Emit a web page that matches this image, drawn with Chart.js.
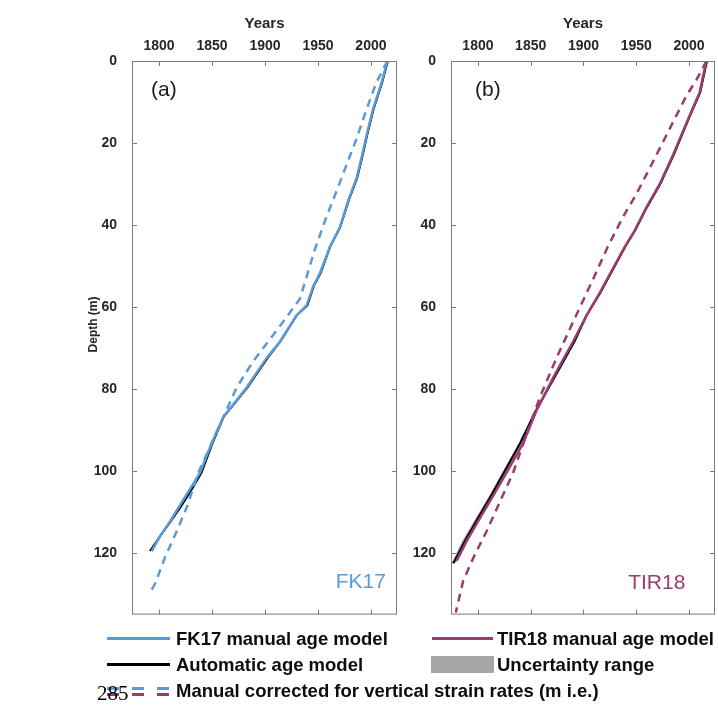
<!DOCTYPE html>
<html>
<head>
<meta charset="utf-8">
<script src="https://cdn.jsdelivr.net/npm/chart.js@4.4.1/dist/chart.umd.min.js"></script>
<style>
  body { margin:0; background:#fff; width:718px; height:705px; position:relative; overflow:hidden; font-family:"Liberation Sans", Arial, sans-serif; }
  canvas { position:absolute; top:0; }
  #chartA { left:80px; }
  #chartB { left:400px; }
  .leg { position:absolute; font-weight:bold; font-size:18.5px; color:#0d0d0d; line-height:1; white-space:nowrap; }
  .sw { position:absolute; }
  #page { position:absolute; left:97px; top:683px; font-family:"Liberation Serif", "Times New Roman", serif; font-size:21px; line-height:1; color:#000; }
</style>
</head>
<body>
<canvas id="chartA" width="320" height="630"></canvas>
<canvas id="chartB" width="318" height="630"></canvas>

<div class="sw" style="left:107px;top:637px;width:63px;height:3px;background:#5b9bd5"></div>
<div class="leg" style="left:176px;top:630px">FK17 manual age model</div>
<div class="sw" style="left:432px;top:637px;width:61px;height:3px;background:#993d70"></div>
<div class="leg" style="left:497px;top:630px">TIR18 manual age model</div>
<div class="sw" style="left:107px;top:663px;width:63px;height:3px;background:#000"></div>
<div class="leg" style="left:176px;top:656px">Automatic age model</div>
<div class="sw" style="left:431px;top:656px;width:63px;height:17px;background:#a6a6a6"></div>
<div class="leg" style="left:497px;top:656px">Uncertainty range</div>
<div class="sw" style="left:107px;top:687px;width:12px;height:3px;background:#5b9bd5"></div>
<div class="sw" style="left:132px;top:687px;width:12px;height:3px;background:#5b9bd5"></div>
<div class="sw" style="left:157px;top:687px;width:12px;height:3px;background:#5b9bd5"></div>
<div class="sw" style="left:107px;top:693px;width:12px;height:3px;background:#993d70"></div>
<div class="sw" style="left:132px;top:693px;width:12px;height:3px;background:#993d70"></div>
<div class="sw" style="left:157px;top:693px;width:12px;height:3px;background:#993d70"></div>
<div class="leg" style="left:176px;top:682px">Manual corrected for vertical strain rates (m i.e.)</div>
<div id="page">285</div>

<script>
// FK17 (panel a)
var fk17Year = [2015.5, 2010, 2002, 1996, 1991, 1986.5, 1978.6, 1970.8, 1961.3, 1951.9, 1945.6, 1939.3, 1929.9, 1914.2, 1901.6, 1882.7, 1860.7, 1849.7, 1838.7, 1829.2, 1819.8, 1810.4, 1800.9, 1793.1];
var fk17Depth = [0, 5.3, 11.7, 18, 23.7, 28.5, 34, 40.5, 45.3, 51.7, 54.9, 59.6, 62, 68.4, 72.4, 79.6, 86.8, 93.2, 100.4, 104.4, 108.3, 112.3, 115.9, 119.5];
var autoAYear = [2016, 2010.5, 2002.5, 1996.5, 1991.5, 1987, 1979, 1971, 1961.5, 1952.5, 1946, 1940, 1930, 1914.5, 1902.5, 1883.5, 1861, 1850.5, 1840, 1831, 1821.5, 1811, 1801, 1791.5];
var autoADepth = fk17Depth;
var uncALow = [2015.3, 2009.7, 2001.7, 1995.7, 1990.7, 1986.2, 1978.2, 1970.2, 1960.7, 1951.7, 1945.2, 1939.2, 1929.2, 1913.7, 1901.7, 1882.7, 1860.2, 1849.7, 1839.2, 1830.2, 1820.7, 1810.2, 1800.2, 1790.5];
var uncAHigh = [2016.8, 2011.3, 2003.3, 1997.3, 1992.3, 1987.8, 1979.8, 1971.8, 1962.3, 1953.3, 1946.8, 1940.8, 1930.8, 1915.3, 1903.3, 1884.3, 1861.8, 1851.3, 1840.8, 1831.8, 1822.3, 1811.8, 1801.8, 1792.5];
var fk17CorrYear = [2015.5, 2005, 1996, 1986.5, 1977, 1967.6, 1958, 1947, 1933, 1920.5, 1907.8, 1889, 1873.3, 1860.7, 1849, 1837, 1827, 1816.7, 1805.7, 1796.2, 1793];
var fk17CorrDepth = [0, 5.3, 11.7, 18.9, 25.3, 31.7, 38, 46, 58, 62.4, 66.8, 73.2, 79.6, 86.8, 93.6, 100.4, 108.3, 114.7, 121, 127.5, 129];

// TIR18 (panel b)
var tir18Year = [2016.4, 2010, 2000.6, 1994, 1984.8, 1972, 1959.6, 1948.6, 1939.1, 1915.5, 1902.9, 1890.2, 1871.3, 1855.6, 1842.9, 1827.1, 1814.5, 1801.9, 1789.3, 1779.8];
var tir18Depth = [0, 7.7, 13.3, 17.3, 22.9, 30.1, 35.7, 41.3, 45.3, 56.5, 62, 68.4, 77.2, 85.2, 93.2, 100.4, 106, 111.5, 117.1, 121.9];
var autoBYear = [2017, 2010.5, 2001, 1994.5, 1985.5, 1972.5, 1960, 1949, 1939.5, 1916, 1903, 1891.5, 1872.5, 1855, 1840, 1824.5, 1812.5, 1800, 1787.5, 1776.6];
var autoBDepth = [0, 7.7, 13.3, 17.3, 22.9, 30.1, 35.7, 41.3, 45.3, 56.5, 62, 68.4, 77.2, 85.2, 93.2, 100.4, 106, 111.5, 117.1, 122.5];
var uncBLow = [2016.2, 2009.6, 2000.1, 1993.6, 1984.6, 1971.6, 1959.1, 1948.1, 1938.6, 1915.1, 1902.1, 1890.6, 1871.5, 1853.8, 1838.6, 1822.9, 1810.6, 1797.8, 1785, 1775];
var uncBHigh = [2017.8, 2011.4, 2001.9, 1995.4, 1986.4, 1973.4, 1960.9, 1949.9, 1940.4, 1916.9, 1903.9, 1892.4, 1873.5, 1856.2, 1841.4, 1826.1, 1814.4, 1802.2, 1790, 1778.6];
var tir18CorrYear = [2016.5, 2007, 1997.5, 1988, 1978.6, 1962.8, 1950, 1937.5, 1923, 1909.1, 1890.2, 1874.5, 1858.7, 1846, 1833.4, 1820.8, 1808.2, 1797.2, 1786.1, 1779];
var tir18CorrDepth = [0, 4.6, 8.5, 13.3, 18.1, 26.1, 32.5, 38, 45.3, 53.2, 63.6, 72.4, 82, 91, 100.4, 107.5, 114.7, 120.3, 126.7, 134.5];

var yearTicks = [1800, 1850, 1900, 1950, 2000];
var depthTicks = [0, 20, 40, 60, 80, 100, 120];

var blue = '#5b9bd5';
var purple = '#993d70';

function pts(xs, ys) {
  return xs.map(function (v, i) { return { x: v, y: ys[i] }; });
}
function band(depths, low, high) {
  return pts(low, depths).concat(pts(high, depths).reverse());
}

// box round the plot with inward ticks on all four sides, plus the panel labels
var frameTicks = {
  id: 'frameTicks',
  afterDatasetsDraw: function (chart, args, opts) {
    var ctx = chart.ctx, a = chart.chartArea, x = chart.scales.x, y = chart.scales.y;
    ctx.save();
    ctx.strokeStyle = '#7a7a7a';
    ctx.lineWidth = 1;
    ctx.strokeRect(a.left + 0.5, a.top + 0.5, a.right - a.left - 1, a.bottom - a.top - 1);
    ctx.beginPath();
    x.ticks.forEach(function (t) {
      var px = Math.round(x.getPixelForValue(t.value)) + 0.5;
      ctx.moveTo(px, a.top); ctx.lineTo(px, a.top + 5);
      ctx.moveTo(px, a.bottom); ctx.lineTo(px, a.bottom - 5);
    });
    y.ticks.forEach(function (t) {
      var py = Math.round(y.getPixelForValue(t.value)) + 0.5;
      ctx.moveTo(a.left, py); ctx.lineTo(a.left + 5, py);
      ctx.moveTo(a.right, py); ctx.lineTo(a.right - 5, py);
    });
    ctx.stroke();
    ctx.font = '21px "Liberation Sans", Arial, sans-serif';
    ctx.textAlign = 'center';
    ctx.textBaseline = 'middle';
    ctx.fillStyle = '#1a1a1a';
    ctx.fillText(opts.panel, x.getPixelForValue(opts.panelAt[0]), y.getPixelForValue(opts.panelAt[1]));
    ctx.fillStyle = opts.color;
    ctx.fillText(opts.core, x.getPixelForValue(opts.coreAt[0]), y.getPixelForValue(opts.coreAt[1]));
    ctx.restore();
  }
};

function makeChart(id, ds, yWidth, showTitle, labels) {
  return new Chart(document.getElementById(id), {
    type: 'scatter',
    data: { datasets: ds },
    plugins: [frameTicks],
    options: {
      responsive: false,
      animation: false,
      layout: { padding: { left: 0, right: 3, top: 0, bottom: 7 } },
      elements: { point: { radius: 0 }, line: { tension: 0 } },
      plugins: { legend: { display: false }, tooltip: { enabled: false }, frameTicks: labels },
      scales: {
        x: {
          type: 'linear', position: 'top', min: 1774.5, max: 2024.6,
          grid: { display: false }, border: { display: false },
          ticks: { padding: -2, color: '#262626', maxRotation: 0, autoSkip: false,
                   font: { family: '"Liberation Sans", Arial', weight: 'bold', size: 14 },
                   callback: function (v) { return String(v); } },
          afterBuildTicks: function (s) { s.ticks = yearTicks.map(function (v) { return { value: v }; }); },
          title: { display: true, text: 'Years', color: '#262626', padding: { top: 15, bottom: 0 },
                   font: { family: '"Liberation Sans", Arial', weight: 'bold', size: 15 } },
          afterFit: function (s) { s.height = 61; }
        },
        y: {
          type: 'linear', position: 'left', reverse: true, min: 0, max: 135,
          grid: { display: false }, border: { display: false },
          ticks: { padding: 7, color: '#262626', autoSkip: false,
                   font: { family: '"Liberation Sans", Arial', weight: 'bold', size: 14 },
                   callback: function (v) { return String(v); } },
          afterBuildTicks: function (s) { s.ticks = depthTicks.map(function (v) { return { value: v }; }); },
          // leading spaces nudge the label a little above the middle, as in the original
          title: { display: showTitle, text: '        Depth (m)', color: '#262626', padding: { top: 6, bottom: 0 },
                   font: { family: '"Liberation Sans", Arial', weight: 'bold', size: 12 } },
          afterFit: function (s) { s.width = yWidth; }
        }
      }
    }
  });
}

makeChart('chartA', [
  { label: 'Manual corrected', data: pts(fk17CorrYear, fk17CorrDepth), showLine: true, borderColor: blue, borderWidth: 2.5, borderDash: [8, 6], order: 0 },
  { label: 'FK17 manual age model', data: pts(fk17Year, fk17Depth), showLine: true, borderColor: blue, borderWidth: 2.5, order: 1 },
  { label: 'Automatic age model', data: pts(autoAYear, autoADepth), showLine: true, borderColor: '#000', borderWidth: 2, order: 2 },
  { label: 'Uncertainty range', data: band(autoADepth, uncALow, uncAHigh), showLine: true, borderWidth: 0, borderColor: 'rgba(0,0,0,0)', backgroundColor: '#a6a6a6', fill: 'shape', order: 3 }
], 52, true, { panel: '(a)', panelAt: [1804.5, 7], core: 'FK17', coreAt: [1990.5, 127.2], color: blue });

makeChart('chartB', [
  { label: 'Manual corrected', data: pts(tir18CorrYear, tir18CorrDepth), showLine: true, borderColor: purple, borderWidth: 2.5, borderDash: [8, 6], order: 0 },
  { label: 'TIR18 manual age model', data: pts(tir18Year, tir18Depth), showLine: true, borderColor: purple, borderWidth: 2.5, order: 1 },
  { label: 'Automatic age model', data: pts(autoBYear, autoBDepth), showLine: true, borderColor: '#000', borderWidth: 2, order: 2 },
  { label: 'Uncertainty range', data: band(autoBDepth, uncBLow, uncBHigh), showLine: true, borderWidth: 0, borderColor: 'rgba(0,0,0,0)', backgroundColor: '#a6a6a6', fill: 'shape', order: 3 }
], 51, false, { panel: '(b)', panelAt: [1809.5, 7], core: 'TIR18', coreAt: [1969.4, 127.4], color: purple });
</script>
</body>
</html>
